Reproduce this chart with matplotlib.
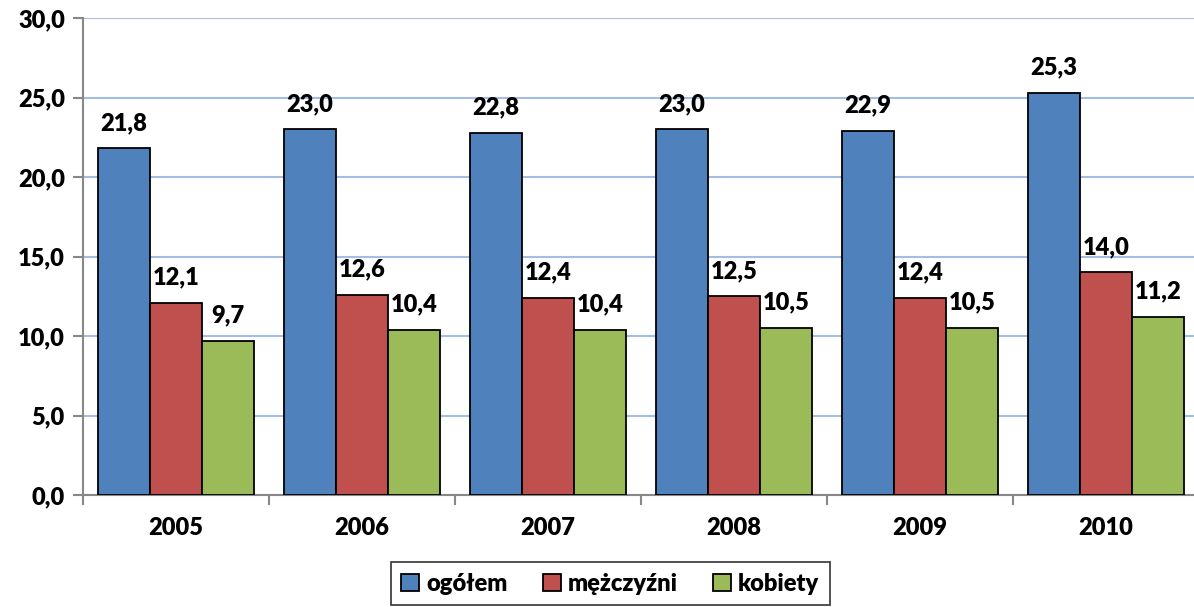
import matplotlib.pyplot as plt
import numpy as np

plt.rcParams['font.family'] = ['Lato', 'DejaVu Sans']

years = ['2005', '2006', '2007', '2008', '2009', '2010']
ogolem = [21.8, 23.0, 22.8, 23.0, 22.9, 25.3]
mezczyzni = [12.1, 12.6, 12.4, 12.5, 12.4, 14.0]
kobiety = [9.7, 10.4, 10.4, 10.5, 10.5, 11.2]

series = [('ogółem', ogolem, '#4f81bd'),
          ('mężczyźni', mezczyzni, '#c0504d'),
          ('kobiety', kobiety, '#9bbb59')]

FW = 'heavy'
FS = 17

fig = plt.figure(figsize=(11.94, 6.07), dpi=100)
ax = fig.add_axes([0.0695, 0.1845, 0.9347, 0.7858])

x = np.arange(len(years))
w = 0.2796
for i, (name, vals, col) in enumerate(series):
    pos = x + (i - 1) * w
    ax.bar(pos, vals, w, color=col, edgecolor='black', linewidth=1.3,
           label=name, zorder=3)
    for p, v in zip(pos, vals):
        ax.text(p, v + 0.9, f'{v:.1f}'.replace('.', ','), ha='center',
                va='bottom', fontsize=FS, fontweight=FW)

ax.set_xlim(-0.5, len(years) - 0.5)
ax.set_ylim(0, 30)
ax.set_yticks(np.arange(0, 31, 5))
ax.set_yticklabels([f'{t:.1f}'.replace('.', ',') for t in np.arange(0, 31, 5)],
                   fontsize=FS, fontweight=FW)
ax.set_xticks(x)
ax.set_xticklabels(years, fontsize=FS, fontweight=FW)
ax.set_xticks(np.arange(-0.5, len(years)), minor=True)
ax.tick_params(axis='x', which='major', length=0, pad=16)
ax.tick_params(axis='x', which='minor', length=7, color='#888888', width=1.5)
ax.tick_params(axis='y', length=7, color='#888888', width=1.5, pad=6)

ax.grid(axis='y', color='#a4bde4', linewidth=1.5, zorder=0)
for s in ['top', 'right']:
    ax.spines[s].set_visible(False)
for s in ['left', 'bottom']:
    ax.spines[s].set_color('#888888')
    ax.spines[s].set_linewidth(1.5)

leg = fig.legend(loc='upper center', bbox_to_anchor=(0.511, 0.074), ncol=3,
                 frameon=True, fancybox=False, edgecolor='black',
                 prop={'size': FS, 'weight': FW}, handlelength=0.75,
                 handleheight=0.75, handletextpad=0.3, columnspacing=1.5,
                 borderpad=0.45, borderaxespad=0)
leg.get_frame().set_linewidth(1.2)

fig.savefig('out.png', dpi=100)
